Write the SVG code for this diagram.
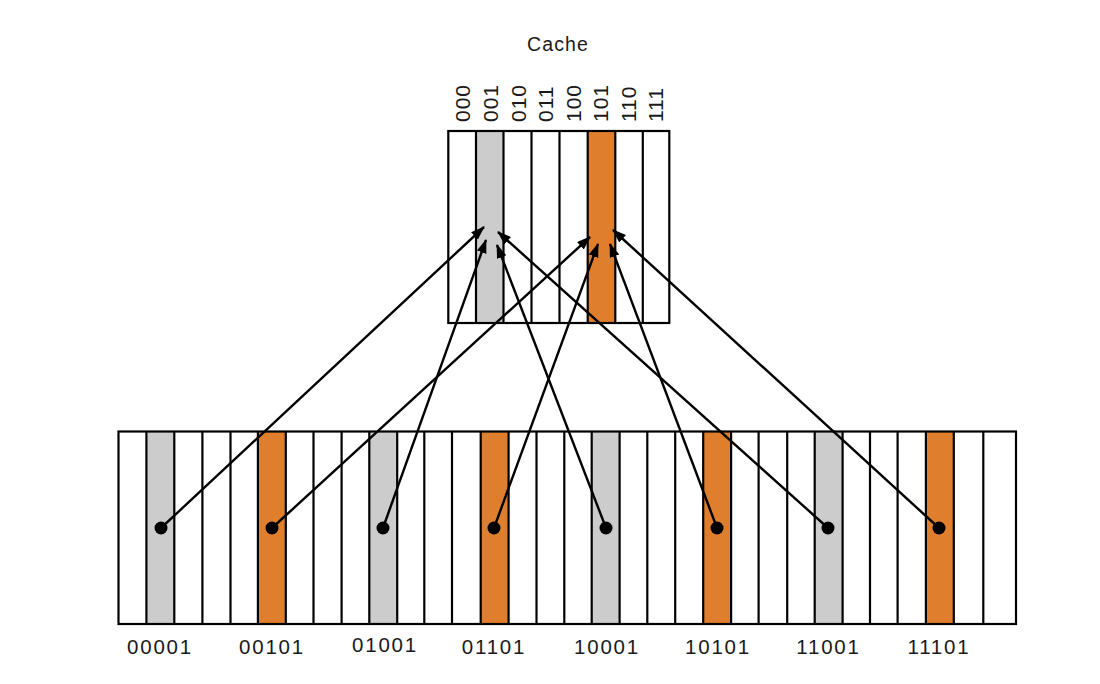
<svg xmlns="http://www.w3.org/2000/svg" width="1100" height="684" viewBox="0 0 1100 684">
<style>
  text { font-family: "Liberation Sans", Arial, sans-serif; fill: #1a1a1a; }
  .title { font-size: 19.5px; letter-spacing: 1.1px; text-anchor: middle; }
  .bit { font-size: 21px; letter-spacing: 1px; }
  .addr { font-size: 20.5px; letter-spacing: 1.8px; text-anchor: middle; }
  .box { fill: none; stroke: #000; stroke-width: 2.2; }
  .div { stroke: #000; stroke-width: 2.2; }
  .gray { fill: #cccccc; }
  .orange { fill: #df7f2d; }
  .conn { stroke: #000; stroke-width: 2.4; fill: none; marker-end: url(#arrow); }
  .dot { fill: #000; }
</style>
<defs>
  <marker id="arrow" markerUnits="userSpaceOnUse" markerWidth="14" markerHeight="11" refX="13" refY="5" orient="auto">
    <path d="M0,0 L14,5 L0,10 z" fill="#000"/>
  </marker>
</defs>
<rect width="1100" height="684" fill="#fff"/>

<g id="cache">
  <text class="title" x="558" y="51">Cache</text>
  <rect x="448.3" y="131" width="221" height="192" fill="#fff"/>
  <rect class="gray" x="476" y="131" width="27.6" height="192"/>
  <rect class="orange" x="587.7" y="131" width="27.6" height="192"/>
  <g class="div">
    <line x1="476" y1="131" x2="476" y2="323"/>
    <line x1="503.5" y1="131" x2="503.5" y2="323"/>
    <line x1="531.5" y1="131" x2="531.5" y2="323"/>
    <line x1="559.5" y1="131" x2="559.5" y2="323"/>
    <line x1="587.7" y1="131" x2="587.7" y2="323"/>
    <line x1="615.3" y1="131" x2="615.3" y2="323"/>
    <line x1="642.8" y1="131" x2="642.8" y2="323"/>
  </g>
  <rect class="box" x="448.3" y="131" width="221" height="192"/>
  <text class="bit" transform="translate(469.5,122) rotate(-90)">000</text>
  <text class="bit" transform="translate(497.5,122) rotate(-90)">001</text>
  <text class="bit" transform="translate(525.5,122) rotate(-90)">010</text>
  <text class="bit" transform="translate(552.5,122) rotate(-90)">011</text>
  <text class="bit" transform="translate(580.5,122) rotate(-90)">100</text>
  <text class="bit" transform="translate(608,122) rotate(-90)">101</text>
  <text class="bit" transform="translate(635.5,122) rotate(-90)">110</text>
  <text class="bit" transform="translate(663,122) rotate(-90)">111</text>
</g>

<g id="memory">
  <rect x="118.5" y="431.5" width="897.5" height="192.5" fill="#fff"/>
  <rect class="gray" x="146.4" y="431.5" width="27.9" height="192.5"/>
  <rect class="orange" x="257.9" y="431.5" width="27.9" height="192.5"/>
  <rect class="gray" x="369.3" y="431.5" width="27.9" height="192.5"/>
  <rect class="orange" x="480.7" y="431.5" width="27.9" height="192.5"/>
  <rect class="gray" x="591.7" y="431.5" width="27.9" height="192.5"/>
  <rect class="orange" x="703.2" y="431.5" width="27.9" height="192.5"/>
  <rect class="gray" x="814.7" y="431.5" width="27.9" height="192.5"/>
  <rect class="orange" x="925.9" y="431.5" width="27.9" height="192.5"/>
  <g class="div">
    <line x1="146.4" y1="431.5" x2="146.4" y2="624"/>
    <line x1="174.3" y1="431.5" x2="174.3" y2="624"/>
    <line x1="202.4" y1="431.5" x2="202.4" y2="624"/>
    <line x1="230.5" y1="431.5" x2="230.5" y2="624"/>
    <line x1="257.9" y1="431.5" x2="257.9" y2="624"/>
    <line x1="285.8" y1="431.5" x2="285.8" y2="624"/>
    <line x1="313.5" y1="431.5" x2="313.5" y2="624"/>
    <line x1="341.6" y1="431.5" x2="341.6" y2="624"/>
    <line x1="369.3" y1="431.5" x2="369.3" y2="624"/>
    <line x1="397.2" y1="431.5" x2="397.2" y2="624"/>
    <line x1="424.3" y1="431.5" x2="424.3" y2="624"/>
    <line x1="452" y1="431.5" x2="452" y2="624"/>
    <line x1="480.7" y1="431.5" x2="480.7" y2="624"/>
    <line x1="508.6" y1="431.5" x2="508.6" y2="624"/>
    <line x1="536.5" y1="431.5" x2="536.5" y2="624"/>
    <line x1="564.3" y1="431.5" x2="564.3" y2="624"/>
    <line x1="591.7" y1="431.5" x2="591.7" y2="624"/>
    <line x1="619.6" y1="431.5" x2="619.6" y2="624"/>
    <line x1="647.3" y1="431.5" x2="647.3" y2="624"/>
    <line x1="675.2" y1="431.5" x2="675.2" y2="624"/>
    <line x1="703.2" y1="431.5" x2="703.2" y2="624"/>
    <line x1="731.1" y1="431.5" x2="731.1" y2="624"/>
    <line x1="758.6" y1="431.5" x2="758.6" y2="624"/>
    <line x1="787.2" y1="431.5" x2="787.2" y2="624"/>
    <line x1="814.7" y1="431.5" x2="814.7" y2="624"/>
    <line x1="842.6" y1="431.5" x2="842.6" y2="624"/>
    <line x1="870" y1="431.5" x2="870" y2="624"/>
    <line x1="897.6" y1="431.5" x2="897.6" y2="624"/>
    <line x1="925.9" y1="431.5" x2="925.9" y2="624"/>
    <line x1="953.8" y1="431.5" x2="953.8" y2="624"/>
    <line x1="983.3" y1="431.5" x2="983.3" y2="624"/>
  </g>
  <rect class="box" x="118.5" y="431.5" width="897.5" height="192.5"/>
  <text class="addr" x="160" y="654">00001</text>
  <text class="addr" x="272" y="654">00101</text>
  <text class="addr" x="385" y="652">01001</text>
  <text class="addr" x="494" y="654">01101</text>
  <text class="addr" x="607" y="654">10001</text>
  <text class="addr" x="718" y="654">10101</text>
  <text class="addr" x="828.5" y="654">11001</text>
  <text class="addr" x="939" y="654">11101</text>
</g>

<g id="connectors">
  <line class="conn" x1="161" y1="528" x2="484" y2="227"/>
  <line class="conn" x1="272" y1="528" x2="590" y2="237"/>
  <line class="conn" x1="383" y1="528" x2="486" y2="240"/>
  <line class="conn" x1="494" y1="528" x2="598" y2="244"/>
  <line class="conn" x1="606" y1="528" x2="497" y2="245"/>
  <line class="conn" x1="717" y1="528" x2="610" y2="244"/>
  <line class="conn" x1="828" y1="528" x2="498" y2="232"/>
  <line class="conn" x1="939" y1="528" x2="613" y2="230"/>
  <circle class="dot" cx="161" cy="528" r="6.5"/>
  <circle class="dot" cx="272" cy="528" r="6.5"/>
  <circle class="dot" cx="383" cy="528" r="6.5"/>
  <circle class="dot" cx="494" cy="528" r="6.5"/>
  <circle class="dot" cx="606" cy="528" r="6.5"/>
  <circle class="dot" cx="717" cy="528" r="6.5"/>
  <circle class="dot" cx="828" cy="528" r="6.5"/>
  <circle class="dot" cx="939" cy="528" r="6.5"/>
</g>
</svg>
